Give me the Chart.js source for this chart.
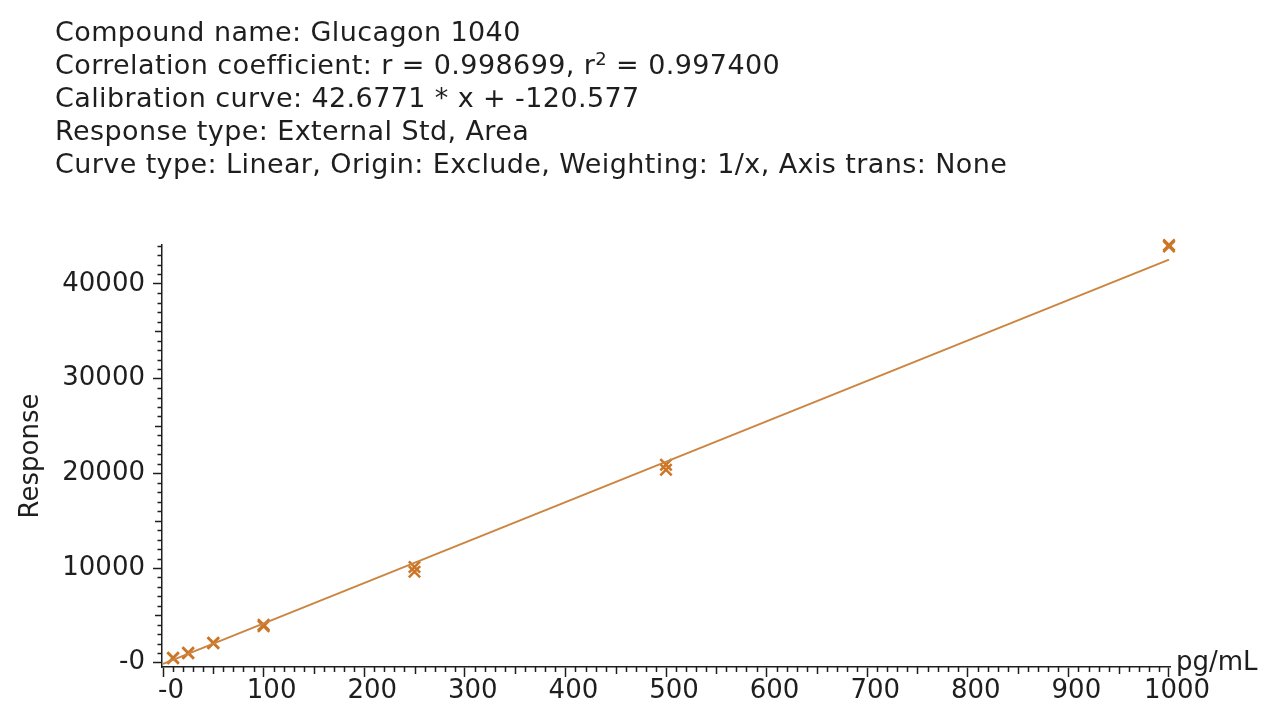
<!DOCTYPE html>
<html>
<head>
<meta charset="utf-8">
<script src="https://cdn.jsdelivr.net/npm/chart.js@4.4.1/dist/chart.umd.min.js"></script>
<style>
  html, body { margin: 0; padding: 0; background: #fff; }
  body { width: 1280px; height: 727px; position: relative; overflow: hidden; }
  #header {
    position: absolute; left: 55px; top: 15px; z-index: 2;
    font-family: "DejaVu Sans", Verdana, sans-serif; font-size: 27px;
    line-height: 33px; color: #1e1e1e; letter-spacing: 0.4px; white-space: nowrap;
  }
  #header sup { font-size: 18px; vertical-align: 9px; line-height: 0; }
  #unit {
    position: absolute; left: 1176px; top: 646px; z-index: 2;
    font-family: "DejaVu Sans", Verdana, sans-serif; font-size: 26px; color: #1e1e1e;
  }
  #wrap { position: absolute; left: 0; top: 0; width: 1280px; height: 727px; }
</style>
</head>
<body>
<div id="header">
  <div>Compound name: Glucagon 1040</div>
  <div>Correlation coefficient: r = 0.998699, r<sup>2</sup> = 0.997400</div>
  <div>Calibration curve: 42.6771 * x + -120.577</div>
  <div>Response type: External Std, Area</div>
  <div>Curve type: Linear, Origin: Exclude, Weighting: 1/x, Axis trans: None</div>
</div>
<div id="unit">pg/mL</div>
<div id="wrap"><canvas id="calChart"></canvas></div>
<script>
// Calibration standards (pg/mL) and measured responses, two injections each
const concentrations = [10, 10, 25, 25, 50, 50, 100, 100, 250, 250, 500, 500, 1000, 1000];
const responses = [530, 480, 1060, 1000, 2110, 2060, 4010, 3850, 10100, 9600, 20900, 20380, 44100, 43950];

// Fitted calibration line end points
const fitX = [0, 1000];
const fitY = [-120.6, 42556.5];

// Axis ticks
const xTicks = [0, 100, 200, 300, 400, 500, 600, 700, 800, 900, 1000];
const yTicks = [0, 10000, 20000, 30000, 40000];

const lineColor = '#cc8540';
const markColor = '#cd7526';
const textColor = '#1e1e1e';
const fontFamily = '"DejaVu Sans", Verdana, sans-serif';

// Minor tick marks drawn along both axes
const minorTicks = {
    id: 'minorTicks',
    afterDraw(chart) {
        const ctx = chart.ctx;
        const xs = chart.scales.x;
        const ys = chart.scales.y;
        const area = chart.chartArea;
        ctx.save();
        ctx.strokeStyle = textColor;
        ctx.lineWidth = 1.5;
        ctx.beginPath();
        for (let v = 10; v < 1000; v += 10) {
            if (v % 100 === 0) continue;
            const len = v % 50 === 0 ? 7 : 5;
            const px = Math.round(xs.getPixelForValue(v)) + 0.5;
            ctx.moveTo(px, area.bottom);
            ctx.lineTo(px, area.bottom + len);
        }
        for (let v = 1000; v <= 44000; v += 1000) {
            if (v % 10000 === 0) continue;
            const len = v % 5000 === 0 ? 7 : 4.5;
            const py = Math.round(ys.getPixelForValue(v)) + 0.5;
            ctx.moveTo(area.left, py);
            ctx.lineTo(area.left - len, py);
        }
        ctx.stroke();
        ctx.restore();
    }
};

const ctx = document.getElementById('calChart').getContext('2d');
const calChart = new Chart(ctx, {
    type: 'scatter',
    data: {
        datasets: [{
            label: 'Fit',
            type: 'line',
            data: fitX.map((x, i) => ({ x: x, y: fitY[i] })),
            borderColor: lineColor,
            borderWidth: 2,
            pointRadius: 0,
            fill: false,
            clip: false
        }, {
            label: 'Standards',
            data: concentrations.map((x, i) => ({ x: x, y: responses[i] })),
            pointStyle: 'crossRot',
            pointRadius: 8,
            borderColor: markColor,
            borderWidth: 2.5,
            backgroundColor: markColor,
            clip: false
        }]
    },
    options: {
        responsive: true,
        maintainAspectRatio: false,
        animation: false,
        layout: {
            padding: { top: 245, right: 110, left: 0, bottom: 0 }
        },
        plugins: {
            legend: { display: false },
            tooltip: { enabled: false }
        },
        scales: {
            x: {
                type: 'linear',
                min: -1,
                max: 1001,
                afterFit: function(scale) { scale.height = 60; },
                afterBuildTicks: function(scale) {
                    scale.ticks = xTicks.map(v => ({ value: v }));
                },
                border: { display: true, color: textColor, width: 1.5 },
                grid: {
                    drawOnChartArea: false,
                    drawTicks: true,
                    tickLength: 10,
                    tickColor: textColor,
                    tickWidth: 1.5
                },
                ticks: {
                    color: textColor,
                    padding: 1,
                    labelOffset: 8,
                    maxRotation: 0,
                    autoSkip: false,
                    font: { family: fontFamily, size: 26, lineHeight: 1 },
                    callback: v => (v === 0 ? '-0' : String(v))
                }
            },
            y: {
                type: 'linear',
                min: -450,
                max: 44100,
                afterFit: function(scale) { scale.width = 162; },
                afterBuildTicks: function(scale) {
                    scale.ticks = yTicks.map(v => ({ value: v }));
                },
                border: { display: true, color: textColor, width: 1.5 },
                grid: {
                    drawOnChartArea: false,
                    drawTicks: true,
                    tickLength: 9,
                    tickColor: textColor,
                    tickWidth: 1.5
                },
                title: {
                    display: true,
                    text: 'Response',
                    color: textColor,
                    padding: { top: 18, bottom: 0 },
                    font: { family: fontFamily, size: 26, lineHeight: 1 }
                },
                ticks: {
                    color: textColor,
                    padding: 8,
                    autoSkip: false,
                    font: { family: fontFamily, size: 26, lineHeight: 1 },
                    callback: v => (v === 0 ? '-0' : String(v))
                }
            }
        }
    },
    plugins: [minorTicks]
});
</script>
</body>
</html>
